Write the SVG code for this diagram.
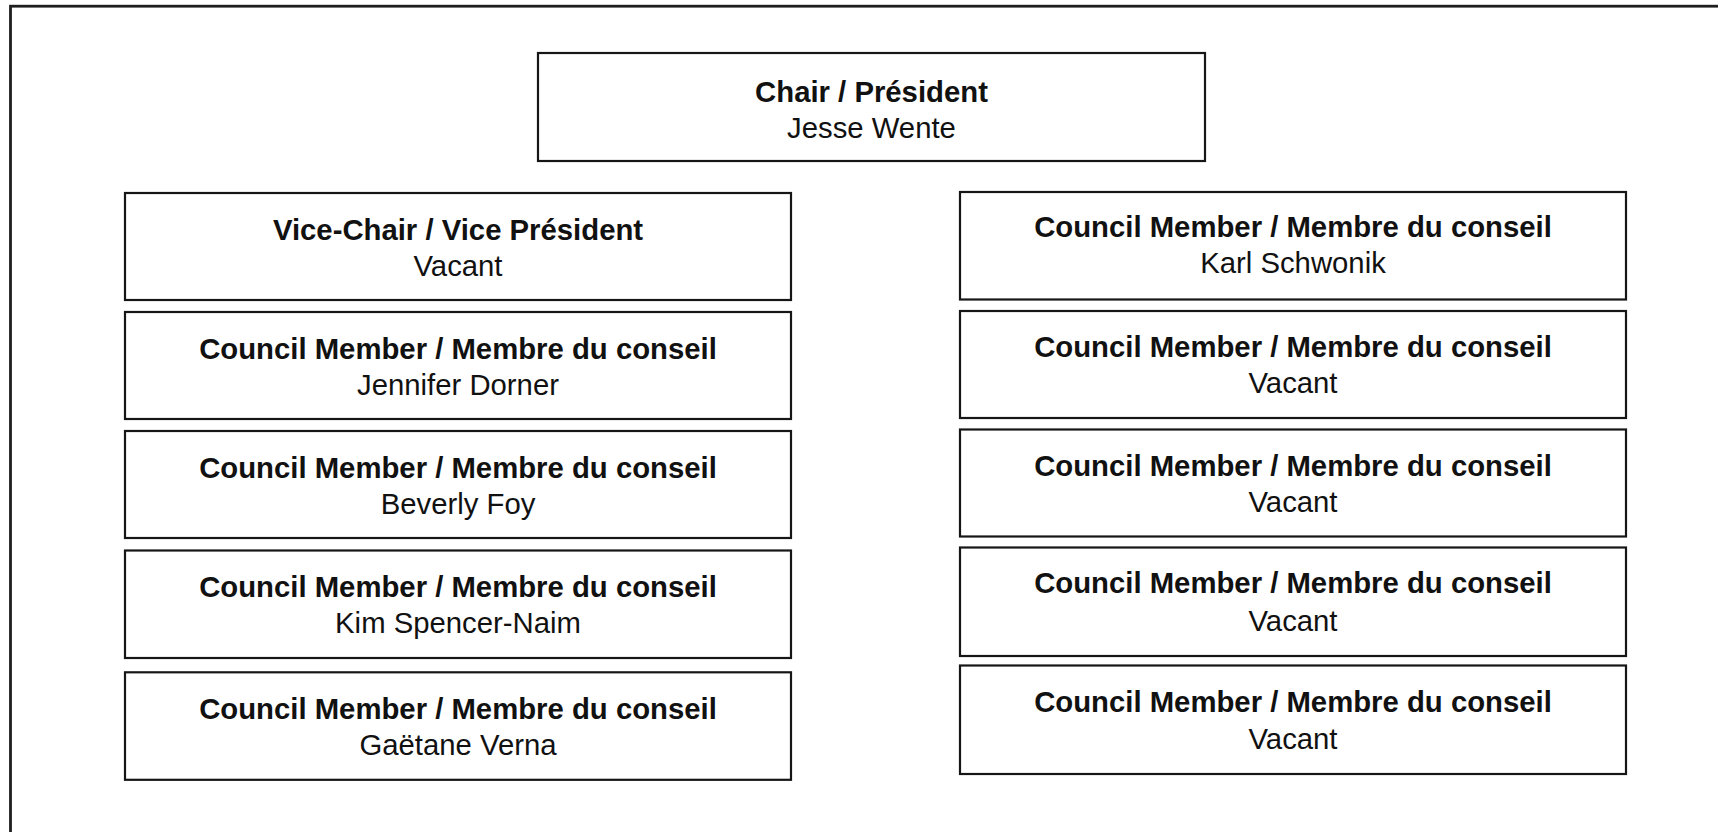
<svg xmlns="http://www.w3.org/2000/svg" width="1718" height="832" viewBox="0 0 1718 832">
<style>
.frame{fill:none;stroke:#1e1e1e;stroke-width:2.8}
.box{fill:#fff;stroke:#161616;stroke-width:2.2}
.t{font-family:"Liberation Sans",Arial,sans-serif;font-size:29.3px;font-weight:bold;fill:#111;text-anchor:middle}
.n{font-family:"Liberation Sans",Arial,sans-serif;font-size:29.3px;fill:#111;text-anchor:middle}
</style>
<rect width="1718" height="832" fill="#fff"/>
<rect class="frame" x="10.5" y="6.2" width="2000" height="2000"/>
<g id="connectors"/>
<g id="chair">
<rect class="box" x="538" y="53" width="667" height="108"/>
<text class="t" x="871.5" y="101.7">Chair / Président</text>
<text class="n" x="871.5" y="138">Jesse Wente</text>
</g>
<g id="vice-chair">
<rect class="box" x="125" y="193" width="666" height="107"/>
<text class="t" x="458" y="240">Vice-Chair / Vice Président</text>
<text class="n" x="458" y="276">Vacant</text>
</g>
<g id="left-2">
<rect class="box" x="125" y="312" width="666" height="107"/>
<text class="t" x="458" y="359">Council Member / Membre du conseil</text>
<text class="n" x="458" y="395">Jennifer Dorner</text>
</g>
<g id="left-3">
<rect class="box" x="125" y="431" width="666" height="107"/>
<text class="t" x="458" y="478">Council Member / Membre du conseil</text>
<text class="n" x="458" y="514">Beverly Foy</text>
</g>
<g id="left-4">
<rect class="box" x="125" y="550.5" width="666" height="107.5"/>
<text class="t" x="458" y="597.3">Council Member / Membre du conseil</text>
<text class="n" x="458" y="633">Kim Spencer-Naim</text>
</g>
<g id="left-5">
<rect class="box" x="125" y="672.3" width="666" height="107.5"/>
<text class="t" x="458" y="719">Council Member / Membre du conseil</text>
<text class="n" x="458" y="755">Gaëtane Verna</text>
</g>
<g id="right-1">
<rect class="box" x="960" y="192" width="666" height="107.5"/>
<text class="t" x="1293" y="237">Council Member / Membre du conseil</text>
<text class="n" x="1293" y="273.3">Karl Schwonik</text>
</g>
<g id="right-2">
<rect class="box" x="960" y="311" width="666" height="107"/>
<text class="t" x="1293" y="356.5">Council Member / Membre du conseil</text>
<text class="n" x="1293" y="393">Vacant</text>
</g>
<g id="right-3">
<rect class="box" x="960" y="429.5" width="666" height="107"/>
<text class="t" x="1293" y="475.5">Council Member / Membre du conseil</text>
<text class="n" x="1293" y="512">Vacant</text>
</g>
<g id="right-4">
<rect class="box" x="960" y="547.5" width="666" height="108.5"/>
<text class="t" x="1293" y="593.3">Council Member / Membre du conseil</text>
<text class="n" x="1293" y="630.5">Vacant</text>
</g>
<g id="right-5">
<rect class="box" x="960" y="665.5" width="666" height="108.5"/>
<text class="t" x="1293" y="711.5">Council Member / Membre du conseil</text>
<text class="n" x="1293" y="748.5">Vacant</text>
</g>
</svg>
